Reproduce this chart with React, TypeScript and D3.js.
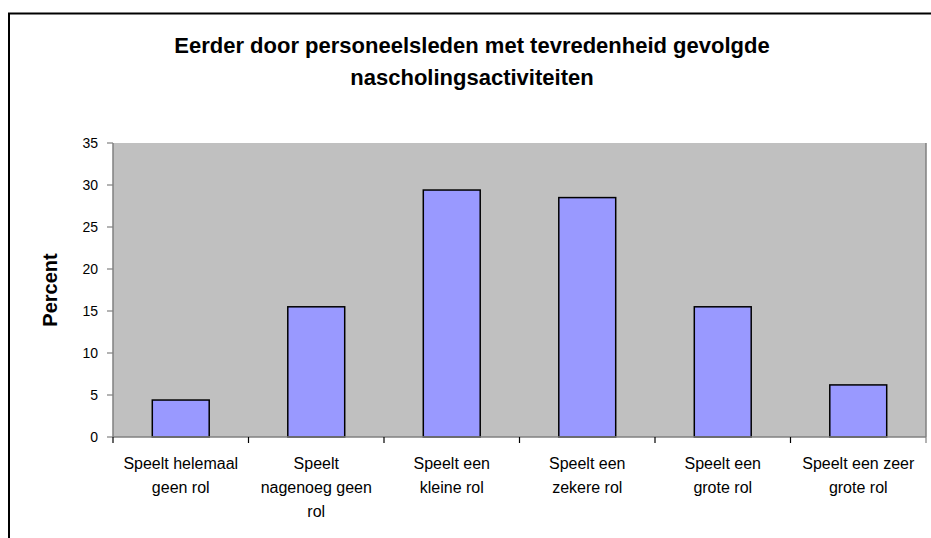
import React from "react";
import * as d3 from "d3";

const categories: string[][] = [
  ["Speelt helemaal", "geen rol"],
  ["Speelt", "nagenoeg geen", "rol"],
  ["Speelt een", "kleine rol"],
  ["Speelt een", "zekere rol"],
  ["Speelt een", "grote rol"],
  ["Speelt een zeer", "grote rol"],
];
const values: number[] = [4.4, 15.5, 29.4, 28.5, 15.5, 6.2];
const yTicks: number[] = [0, 5, 10, 15, 20, 25, 30, 35];
const titleLines: string[] = [
  "Eerder door personeelsleden met tevredenheid gevolgde",
  "nascholingsactiviteiten",
];
const yLabel = "Percent";

export default function App() {
  const W = 931;
  const H = 538;
  const left = 113;
  const right = 926;
  const top = 143;
  const bottom = 437;
  const idx = categories.map((_, i) => String(i));
  const x = d3.scaleBand<string>().domain(idx).range([left, right]).paddingInner(0).paddingOuter(0);
  const y = d3.scaleLinear().domain([0, 35]).range([bottom, top]);
  const bw = x.bandwidth() * 0.42;
  const font = "'Liberation Sans', Arial, sans-serif";

  return (
    <svg width={W} height={H} style={{ position: "absolute", left: 0, top: 0 }}>
      <rect x={0} y={0} width={W} height={H} fill="#fff" />
      <rect x={9} y={13.5} width={W + 20} height={H + 20} fill="#fff" stroke="#000" strokeWidth={2} />
      {titleLines.map((t, i) => (
        <text key={i} x={472} y={53 + i * 32} textAnchor="middle" fontFamily={font} fontWeight="bold" fontSize={22} fill="#000">
          {t}
        </text>
      ))}
      <rect x={left} y={top} width={right - left} height={bottom - top} fill="#C0C0C0" />
      <line x1={right} x2={right} y1={top} y2={bottom} stroke="#808080" strokeWidth={1.5} />
      {values.map((v, i) => {
        const cx = (x(String(i)) as number) + x.bandwidth() / 2;
        return (
          <rect key={i} x={cx - bw / 2} y={y(v)} width={bw} height={bottom - y(v)} fill="#9999FF" stroke="#000" strokeWidth={1.5} />
        );
      })}
      <line x1={left} x2={left} y1={top} y2={bottom} stroke="#808080" strokeWidth={1.5} />
      <line x1={left} x2={right} y1={bottom} y2={bottom} stroke="#808080" strokeWidth={1.5} />
      {yTicks.map((t) => (
        <g key={t}>
          <line x1={left - 6} x2={left} y1={y(t)} y2={y(t)} stroke="#808080" strokeWidth={1.2} />
          <text x={left - 15} y={y(t)} dy="0.35em" textAnchor="end" fontFamily={font} fontSize={14} fill="#000">
            {t}
          </text>
        </g>
      ))}
      {categories.map((_, i) => (
        <line key={i} x1={x(String(i)) as number} x2={x(String(i)) as number} y1={bottom} y2={bottom + 6} stroke="#000" strokeWidth={1.2} />
      ))}
      <line x1={right} x2={right} y1={bottom} y2={bottom + 6} stroke="#808080" strokeWidth={1.2} />
      {categories.map((lines, i) => {
        const cx = (x(String(i)) as number) + x.bandwidth() / 2;
        return (
          <text key={i} textAnchor="middle" fontFamily={font} fontSize={16} fill="#000">
            {lines.map((l, j) => (
              <tspan key={j} x={cx} y={469 + j * 24}>
                {l}
              </tspan>
            ))}
          </text>
        );
      })}
      <text transform={`translate(57,${(top + bottom) / 2}) rotate(-90)`} textAnchor="middle" fontFamily={font} fontWeight="bold" fontSize={20} fill="#000">
        {yLabel}
      </text>
    </svg>
  );
}
